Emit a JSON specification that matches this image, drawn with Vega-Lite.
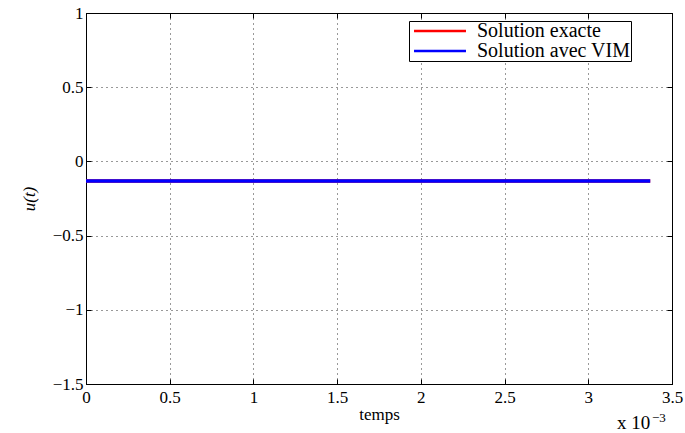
{
  "$schema": "https://vega.github.io/schema/vega-lite/v6.json",
  "width": 586,
  "height": 371,
  "autosize": "none",
  "padding": {"left": 86, "top": 13, "right": 13, "bottom": 49},
  "background": "white",
  "config": {
    "font": "Times New Roman, Liberation Serif, serif",
    "view": {"stroke": "black", "strokeWidth": 1},
    "axis": {
      "labelFont": "Times New Roman, Liberation Serif, serif",
      "titleFont": "Times New Roman, Liberation Serif, serif",
      "labelFontSize": 17,
      "titleFontSize": 17,
      "labelColor": "black",
      "titleColor": "black",
      "domainColor": "black",
      "tickColor": "black",
      "tickSize": -5,
      "titleFontWeight": "normal",
      "gridColor": "black",
      "gridDash": [1, 4],
      "gridOpacity": 0.8
    }
  },
  "data": {
    "values": [
      {"t": 0, "u": -0.132, "serie": "Solution exacte"},
      {"t": 0.00337, "u": -0.132, "serie": "Solution exacte"},
      {"t": 0, "u": -0.132, "serie": "Solution avec VIM"},
      {"t": 0.00337, "u": -0.132, "serie": "Solution avec VIM"}
    ]
  },
  "layer": [
    {
      "mark": {"type": "line", "strokeWidth": 3.3, "clip": true},
      "encoding": {
        "x": {
          "field": "t", "type": "quantitative",
          "scale": {"domain": [0, 0.0035], "nice": false, "zero": false},
          "axis": {
            "values": [0, 0.0005, 0.001, 0.0015, 0.002, 0.0025, 0.003, 0.0035],
            "labelExpr": "format(datum.value*1000, '~g')",
            "title": "temps", "titlePadding": 1, "labelPadding": 10, "grid": true,
            "labelFlush": false
          }
        },
        "y": {
          "field": "u", "type": "quantitative",
          "scale": {"domain": [-1.5, 1], "nice": false, "zero": false},
          "axis": {
            "values": [-1.5, -1, -0.5, 0, 0.5, 1],
            "format": "~g",
            "title": "u(t)", "titleFontStyle": "italic", "titlePadding": 14,
            "labelPadding": 8, "grid": true, "labelFlush": false
          }
        },
        "color": {
          "field": "serie", "type": "nominal",
          "scale": {"domain": ["Solution exacte", "Solution avec VIM"], "range": ["#ff0000", "#0000ff"]},
          "sort": ["Solution exacte", "Solution avec VIM"],
          "legend": {
            "title": null,
            "orient": "none",
            "legendX": 323,
            "legendY": 8,
            "direction": "vertical",
            "strokeColor": "black",
            "fillColor": "white",
            "padding": 0,
            "symbolType": "M-5,0H5",
            "symbolSize": 108,
            "symbolOffset": 21,
            "symbolStrokeWidth": 2.5,
            "labelFontSize": 20,
            "labelFont": "Times New Roman, Liberation Serif, serif",
            "labelColor": "black",
            "labelBaseline": "middle",
            "rowPadding": -8,
            "labelOffset": 27,
            "labelLimit": 300
          }
        },
        "order": {"field": "serie", "sort": "descending"}
      }
    },
    {
      "mark": {"type": "line", "opacity": 0},
      "encoding": {
        "x": {
          "field": "t", "type": "quantitative",
          "axis": {"orient": "top", "values": [0, 0.0005, 0.001, 0.0015, 0.002, 0.0025, 0.003, 0.0035], "labels": false, "title": null, "grid": false}
        },
        "y": {
          "field": "u", "type": "quantitative",
          "axis": {"orient": "right", "values": [-1.5, -1, -0.5, 0, 0.5, 1], "labels": false, "title": null, "grid": false}
        }
      }
    },
    {
      "data": {"values": [{"label": "x 10"}]},
      "mark": {"type": "text", "align": "left", "baseline": "alphabetic", "font": "Times New Roman, Liberation Serif, serif", "fontSize": 19, "fontWeight": "normal", "dy": 45, "dx": -55},
      "encoding": {
        "x": {"datum": 0.0035, "axis": null},
        "y": {"datum": -1.5, "axis": null},
        "text": {"field": "label"}
      }
    },
    {
      "data": {"values": [{"label": "−3"}]},
      "mark": {"type": "text", "align": "left", "baseline": "alphabetic", "font": "Times New Roman, Liberation Serif, serif", "fontSize": 13, "fontWeight": "normal", "dy": 38, "dx": -20},
      "encoding": {
        "x": {"datum": 0.0035, "axis": null},
        "y": {"datum": -1.5, "axis": null},
        "text": {"field": "label"}
      }
    }
  ],
  "resolve": {"axis": {"x": "independent", "y": "independent"}}
}
